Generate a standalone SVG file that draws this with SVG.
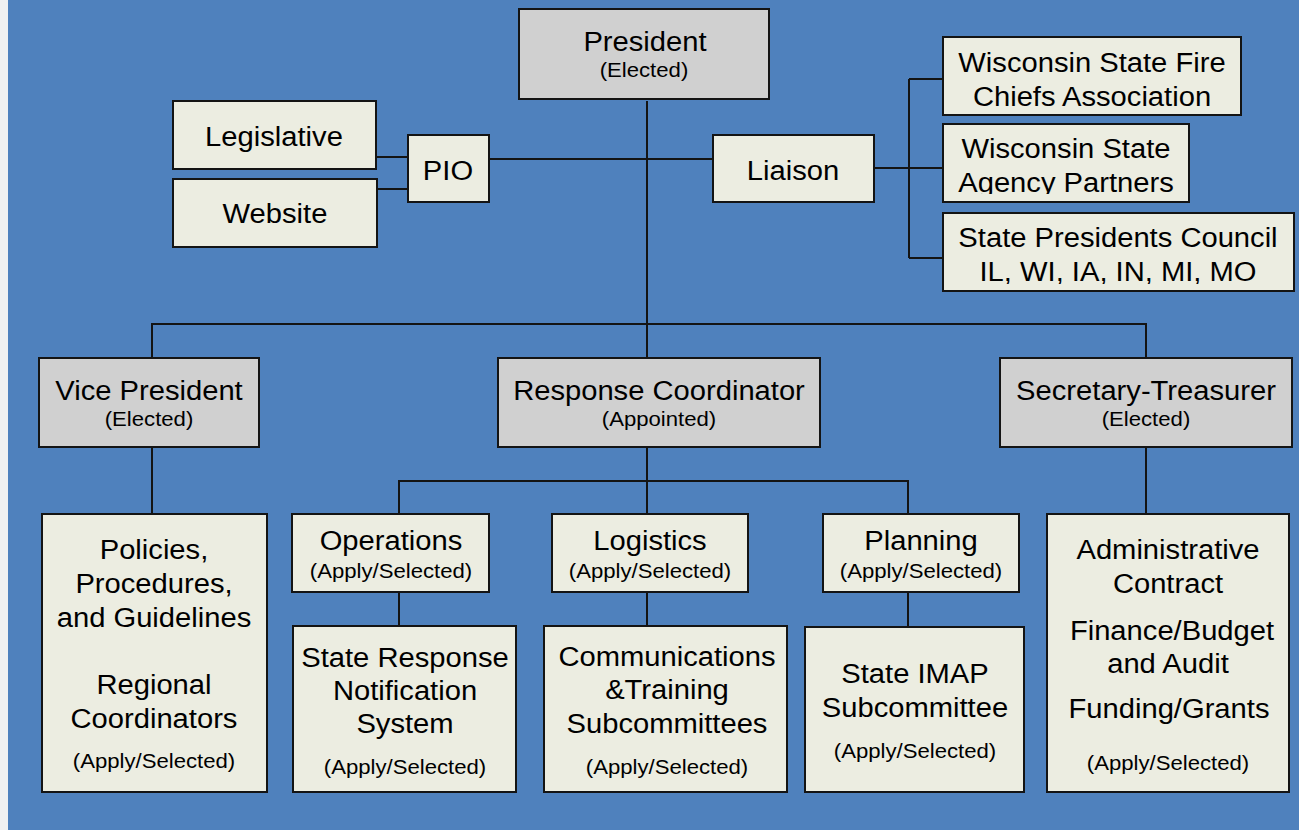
<svg xmlns="http://www.w3.org/2000/svg" width="1299" height="830" viewBox="0 0 1299 830">
<style>
.box{stroke:#141414;stroke-width:2}
.g{fill:#D0D0D0}
.l{fill:#ECEDE1}
.c{stroke:#141414;stroke-width:2;fill:none}
.t{font-family:"Liberation Sans",Arial,Helvetica,sans-serif;font-size:27px;text-anchor:middle;fill:#000;transform-box:fill-box;transform-origin:center;transform:scaleX(1.08)}
.s{font-size:20.5px}
</style>
<defs>
<clipPath id="clipAgency"><rect x="943" y="124" width="246" height="70"/></clipPath>
<clipPath id="clipCouncil"><rect x="943" y="213" width="351" height="71"/></clipPath>
</defs>
<rect x="0" y="0" width="1299" height="830" fill="#4F81BD"/>
<rect x="0" y="0" width="8" height="830" fill="#F1F1F1"/>

<g id="connectors" class="c">
<path d="M647 101V358"/>
<path d="M376 157H408M377 189H408"/>
<path d="M489 159H713"/>
<path d="M874 168H943M909 79V258M909 79H943M909 258H943"/>
<path d="M152 358V324H1146V358"/>
<path d="M152 447V514"/>
<path d="M1146 447V514"/>
<path d="M647 447V514"/>
<path d="M399 514V481H908V514"/>
<path d="M399 592V626"/>
<path d="M647 592V626"/>
<path d="M908 592V627"/>
</g>

<g id="president">
<rect class="box g" x="519" y="9" width="250" height="90"/>
<text class="t" x="645" y="51">President</text>
<text class="t s" x="644" y="77">(Elected)</text>
</g>

<g id="legislative">
<rect class="box l" x="173" y="101" width="203" height="68"/>
<text class="t" x="274" y="146">Legislative</text>
</g>
<g id="website">
<rect class="box l" x="173" y="179" width="204" height="68"/>
<text class="t" x="275" y="223">Website</text>
</g>
<g id="pio">
<rect class="box l" x="408" y="135" width="81" height="67"/>
<text class="t" x="448" y="180">PIO</text>
</g>
<g id="liaison">
<rect class="box l" x="713" y="135" width="161" height="67"/>
<text class="t" x="793" y="180">Liaison</text>
</g>

<g id="fire-chiefs">
<rect class="box l" x="943" y="37" width="298" height="78"/>
<text class="t" x="1092" y="72">Wisconsin State Fire</text>
<text class="t" x="1092" y="106">Chiefs Association</text>
</g>
<g id="agency-partners">
<rect class="box l" x="943" y="124" width="246" height="78"/>
<g clip-path="url(#clipAgency)">
<text class="t" x="1066" y="158">Wisconsin State</text>
<text class="t" x="1066" y="192">Agency Partners</text>
</g>
</g>
<g id="presidents-council">
<rect class="box l" x="943" y="213" width="351" height="78"/>
<g clip-path="url(#clipCouncil)">
<text class="t" x="1118" y="247">State Presidents Council</text>
<text class="t" x="1118" y="281">IL, WI, IA, IN, MI, MO</text>
</g>
</g>

<g id="vice-president">
<rect class="box g" x="39" y="358" width="220" height="89"/>
<text class="t" x="149" y="400">Vice President</text>
<text class="t s" x="149" y="426">(Elected)</text>
</g>
<g id="response-coordinator">
<rect class="box g" x="498" y="358" width="322" height="89"/>
<text class="t" x="659" y="400">Response Coordinator</text>
<text class="t s" x="659" y="426">(Appointed)</text>
</g>
<g id="secretary-treasurer">
<rect class="box g" x="1000" y="358" width="292" height="89"/>
<text class="t" x="1146" y="400">Secretary-Treasurer</text>
<text class="t s" x="1146" y="426">(Elected)</text>
</g>

<g id="policies">
<rect class="box l" x="42" y="514" width="225" height="278"/>
<text class="t" x="154" y="559">Policies,</text>
<text class="t" x="154" y="593">Procedures,</text>
<text class="t" x="154" y="627">and Guidelines</text>
<text class="t" x="154" y="694">Regional</text>
<text class="t" x="154" y="728">Coordinators</text>
<text class="t s" x="154" y="768">(Apply/Selected)</text>
</g>

<g id="operations">
<rect class="box l" x="292" y="514" width="197" height="78"/>
<text class="t" x="391" y="550">Operations</text>
<text class="t s" x="391" y="578">(Apply/Selected)</text>
</g>
<g id="logistics">
<rect class="box l" x="552" y="514" width="196" height="78"/>
<text class="t" x="650" y="550">Logistics</text>
<text class="t s" x="650" y="578">(Apply/Selected)</text>
</g>
<g id="planning">
<rect class="box l" x="823" y="514" width="196" height="78"/>
<text class="t" x="921" y="550">Planning</text>
<text class="t s" x="921" y="578">(Apply/Selected)</text>
</g>

<g id="administrative">
<rect class="box l" x="1047" y="514" width="242" height="278"/>
<text class="t" x="1168" y="559">Administrative</text>
<text class="t" x="1168" y="593">Contract</text>
<text class="t" x="1172" y="640">Finance/Budget</text>
<text class="t" x="1168" y="673">and Audit</text>
<text class="t" x="1169" y="718">Funding/Grants</text>
<text class="t s" x="1168" y="770">(Apply/Selected)</text>
</g>

<g id="state-response">
<rect class="box l" x="293" y="626" width="223" height="166"/>
<text class="t" x="405" y="667">State Response</text>
<text class="t" x="405" y="700">Notification</text>
<text class="t" x="405" y="733">System</text>
<text class="t s" x="405" y="774">(Apply/Selected)</text>
</g>
<g id="communications">
<rect class="box l" x="544" y="626" width="243" height="166"/>
<text class="t" x="667" y="666">Communications</text>
<text class="t" x="667" y="699">&amp;Training</text>
<text class="t" x="667" y="733">Subcommittees</text>
<text class="t s" x="667" y="774">(Apply/Selected)</text>
</g>
<g id="imap">
<rect class="box l" x="805" y="627" width="219" height="165"/>
<text class="t" x="915" y="683">State IMAP</text>
<text class="t" x="915" y="717">Subcommittee</text>
<text class="t s" x="915" y="758">(Apply/Selected)</text>
</g>
</svg>
